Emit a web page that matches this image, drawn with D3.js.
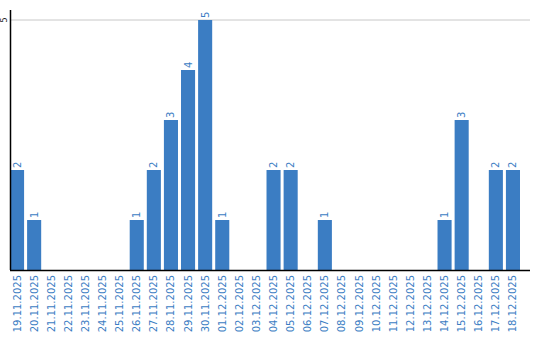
<!DOCTYPE html>
<html>
<head>
<meta charset="utf-8">
<script src="https://cdn.jsdelivr.net/npm/d3@7"></script>
<style>
  body { margin: 0; background: #fff; }
  text { font-family: "DejaVu Sans", sans-serif; }
</style>
</head>
<body>
<svg id="chart"></svg>
<script>
var dates = ["19.11.2025","20.11.2025","21.11.2025","22.11.2025","23.11.2025","24.11.2025",
  "25.11.2025","26.11.2025","27.11.2025","28.11.2025","29.11.2025","30.11.2025",
  "01.12.2025","02.12.2025","03.12.2025","04.12.2025","05.12.2025","06.12.2025",
  "07.12.2025","08.12.2025","09.12.2025","10.12.2025","11.12.2025","12.12.2025",
  "13.12.2025","14.12.2025","15.12.2025","16.12.2025","17.12.2025","18.12.2025"];
var counts = [2,1,0,0,0,0,0,1,2,3,4,5,1,0,0,2,2,0,1,0,0,0,0,0,0,1,3,0,2,2];
var yTicks = [5];

var barColor = "#3b7dc3";
var margins = { top: 10, left: 10, bottom: 70, right: 10 };
var W = 540, H = 340;
var height = H - margins.top - margins.bottom;   // 260
var width = W - margins.left - margins.right;    // 520

var svg = d3.select("#chart").attr("width", W).attr("height", H);
var g = svg.append("g").attr("transform", "translate(" + margins.left + "," + margins.top + ")");

// bars take 510px, axis line runs a bit further
var xScale = d3.scaleBand().domain(dates).range([0, 510]).paddingInner(3 / 17).paddingOuter(0).align(0);
var yScale = d3.scaleLinear().domain([0, 5.2]).range([height, 0]);

// gridline
g.selectAll(".grid").data(yTicks).enter().append("line")
  .attr("x1", 0).attr("x2", width)
  .attr("y1", function(d) { return yScale(d); })
  .attr("y2", function(d) { return yScale(d); })
  .attr("stroke", "#c8c8c8").attr("stroke-width", 1);

// y tick label
g.selectAll(".ylab").data(yTicks).enter().append("text")
  .attr("transform", function(d) { return "translate(-6," + yScale(d) + ") rotate(-90)"; })
  .attr("text-anchor", "middle")
  .attr("dy", "0.35em")
  .attr("font-size", 8)
  .attr("fill", "#222")
  .text(function(d) { return d; });

// bars
g.selectAll(".bar").data(counts).enter().append("rect")
  .attr("x", function(d, i) { return xScale(dates[i]); })
  .attr("y", function(d) { return yScale(d); })
  .attr("width", xScale.bandwidth())
  .attr("height", function(d) { return height - yScale(d); })
  .attr("fill", barColor);

// value labels, only on non-empty days
counts.forEach(function(d, i) {
  if (d <= 0) return;
  g.append("text")
    .attr("transform", "translate(" + (xScale(dates[i]) + xScale.bandwidth() / 2) + "," + (yScale(d) - 2) + ") rotate(-90)")
    .attr("dy", "0.35em")
    .attr("font-size", 10)
    .attr("fill", barColor)
    .text(d);
});

// axes
g.append("line")
  .attr("x1", 0.5).attr("x2", 0.5).attr("y1", 0).attr("y2", height)
  .attr("stroke", "#000").attr("stroke-width", 1.5);
g.append("line")
  .attr("x1", 0).attr("x2", width).attr("y1", height + 0.5).attr("y2", height + 0.5)
  .attr("stroke", "#000").attr("stroke-width", 1.5);

// x labels
g.selectAll(".xlab").data(dates).enter().append("text")
  .attr("transform", function(d) { return "translate(" + (xScale(d) + xScale.bandwidth() / 2) + "," + (height + 5) + ") rotate(-90)"; })
  .attr("text-anchor", "end")
  .attr("dy", "0.35em")
  .attr("font-size", 10)
  .attr("fill", barColor)
  .text(function(d) { return d; });
</script>
</body>
</html>
